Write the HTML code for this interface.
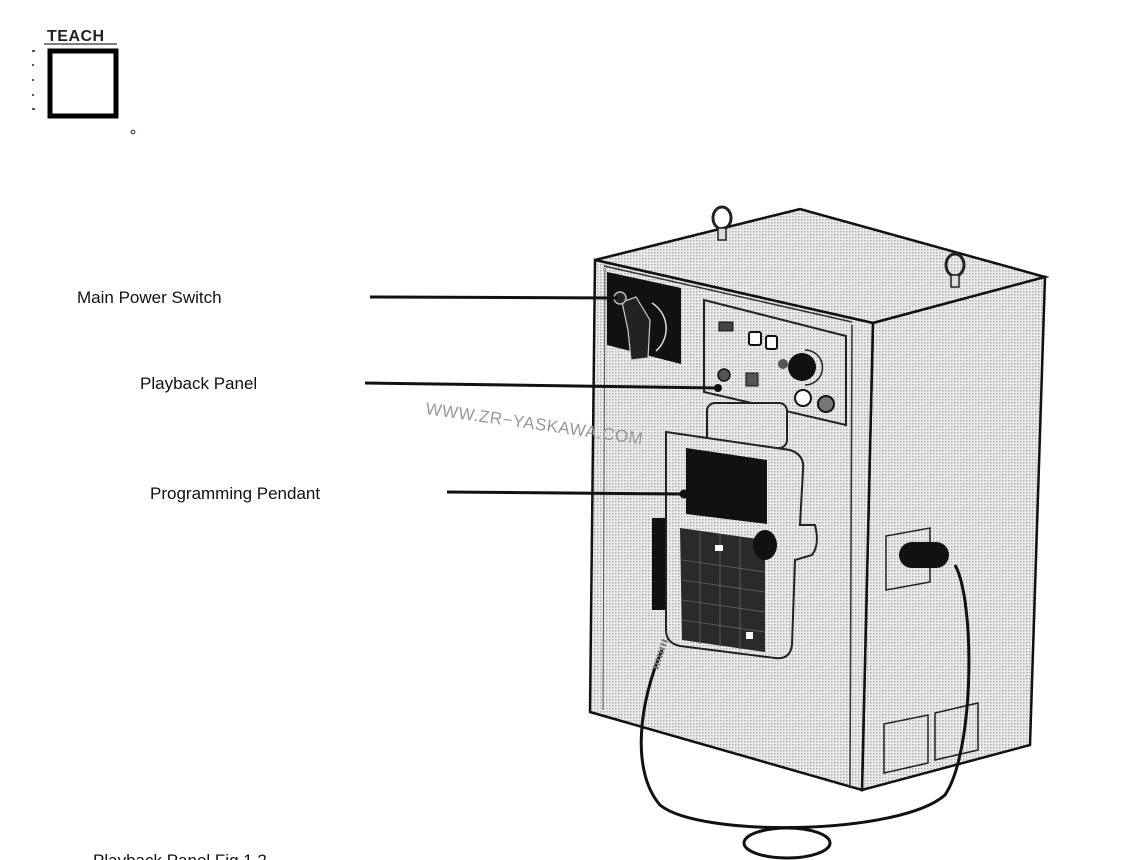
<!DOCTYPE html>
<html><head><meta charset="utf-8"><style>
html,body{margin:0;padding:0;background:#fff;width:1142px;height:860px;overflow:hidden}
svg{display:block}
text{font-family:"Liberation Sans",Arial,sans-serif}
</style></head><body>
<svg width="1142" height="860" viewBox="0 0 1142 860" xmlns="http://www.w3.org/2000/svg">
<defs>
<pattern id="dots" width="3" height="3" patternUnits="userSpaceOnUse">
<rect width="3" height="3" fill="#ececec"/><rect width="1.5" height="1.5" fill="#b0b0b0"/>
</pattern>
</defs>
<!-- TEACH -->
<text x="47" y="41" font-size="16" font-weight="bold" fill="#222" letter-spacing="0.5">TEACH</text>
<line x1="44" y1="44" x2="117" y2="44" stroke="#555" stroke-width="1.5"/>
<rect x="50" y="51" width="66" height="65" fill="#fff" stroke="#000" stroke-width="5"/>
<g fill="#555"><rect x="32" y="50" width="3" height="2"/><rect x="32" y="64" width="2" height="2"/><rect x="32" y="79" width="2" height="2"/><rect x="32" y="94" width="2" height="2"/><rect x="32" y="108" width="3" height="2"/></g>
<circle cx="133" cy="132" r="1.8" fill="none" stroke="#446" stroke-width="1.2"/>

<!-- cabinet top -->
<polygon points="595,260 800,209 1045,277 873,323" fill="url(#dots)" stroke="#111" stroke-width="2.5"/>
<!-- side -->
<polygon points="873,323 1045,277 1030,745 862,790" fill="url(#dots)" stroke="#111" stroke-width="2.5"/>
<!-- front -->
<polygon points="595,260 873,323 862,790 590,712" fill="url(#dots)" stroke="#111" stroke-width="2.5"/>
<line x1="852" y1="325" x2="850" y2="788" stroke="#333" stroke-width="1.5"/>
<line x1="604" y1="266" x2="852" y2="322" stroke="#333" stroke-width="1.5"/>
<line x1="605" y1="268" x2="603" y2="710" stroke="#555" stroke-width="1"/>
<!-- eye bolts -->
<ellipse cx="722" cy="218" rx="9" ry="11" fill="none" stroke="#222" stroke-width="3"/>
<rect x="718" y="228" width="8" height="12" fill="#ddd" stroke="#222" stroke-width="1.5"/>
<ellipse cx="955" cy="265" rx="9" ry="11" fill="none" stroke="#222" stroke-width="3"/>
<rect x="951" y="275" width="8" height="12" fill="#ddd" stroke="#222" stroke-width="1.5"/>
<!-- main power switch -->
<polygon points="607,272 681,288 681,364 607,345" fill="#111"/>
<path d="M652,303 a30,30 0 0 1 4,48" fill="none" stroke="#ddd" stroke-width="1.5"/>
<polygon points="622,302 636,297 650,320 648,358 631,360 628,330" fill="#222" stroke="#ccc" stroke-width="1.2"/>
<circle cx="620" cy="298" r="6" fill="#222" stroke="#bbb" stroke-width="1.5"/>
<!-- playback panel -->
<polygon points="704,300 846,336 846,425 704,392" fill="url(#dots)" stroke="#222" stroke-width="2"/>
<rect x="719" y="322" width="14" height="9" fill="#444" stroke="#111"/>
<rect x="749" y="332" width="12" height="13" rx="2" fill="#fff" stroke="#111" stroke-width="2"/>
<rect x="766" y="336" width="11" height="13" rx="2" fill="#fff" stroke="#111" stroke-width="2"/>
<circle cx="802" cy="367" r="14" fill="#111"/>
<path d="M805,350 a17,17 0 0 1 0,35" fill="none" stroke="#222" stroke-width="1.5"/>
<circle cx="783" cy="364" r="5" fill="#555"/>
<circle cx="724" cy="375" r="6" fill="#555" stroke="#111" stroke-width="1.5"/>
<rect x="746" y="373" width="12" height="13" fill="#555" stroke="#111"/>
<circle cx="803" cy="398" r="8" fill="#fff" stroke="#111" stroke-width="2"/>
<circle cx="826" cy="404" r="8" fill="#777" stroke="#111" stroke-width="2"/>
<!-- side connector -->
<polygon points="886,536 930,528 930,582 886,590" fill="url(#dots)" stroke="#222" stroke-width="1.5"/>
<rect x="899" y="542" width="50" height="26" rx="13" fill="#111"/>
<!-- bottom boxes -->
<polygon points="884,724 928,715 928,763 884,773" fill="url(#dots)" stroke="#222" stroke-width="1.5"/>
<polygon points="935,713 978,703 978,750 935,760" fill="url(#dots)" stroke="#222" stroke-width="1.5"/>
<!-- pendant -->
<rect x="707" y="403" width="80" height="45" rx="8" fill="url(#dots)" stroke="#222" stroke-width="2"/>
<rect x="652" y="518" width="24" height="92" fill="#111"/>
<path d="M666,432 L790,450 Q805,455 803,470 L800,525 L815,525 Q820,545 812,555 L795,560 L792,645 Q790,660 775,658 L680,646 Q666,643 666,630 Z" fill="url(#dots)" stroke="#222" stroke-width="2"/>
<polygon points="686,448 767,460 767,524 686,514" fill="#111"/>
<polygon points="680,528 765,540 765,652 682,640" fill="#2a2a2a"/>
<g stroke="#666" stroke-width="0.8">
<line x1="682" y1="560" x2="765" y2="572"/><line x1="682" y1="580" x2="765" y2="592"/><line x1="682" y1="600" x2="765" y2="612"/><line x1="682" y1="620" x2="765" y2="632"/>
<line x1="700" y1="532" x2="700" y2="644"/><line x1="720" y1="535" x2="720" y2="647"/><line x1="740" y1="538" x2="740" y2="650"/>
</g>
<rect x="715" y="545" width="8" height="6" fill="#fff"/>
<rect x="746" y="632" width="7" height="7" fill="#fff"/>
<ellipse cx="765" cy="545" rx="12" ry="15" fill="#111"/>
<!-- cable -->
<path d="M662,650 C640,700 630,770 660,805 C700,838 900,835 945,795 C975,750 975,600 955,565" fill="none" stroke="#111" stroke-width="3"/>
<line x1="665" y1="640" x2="655" y2="670" stroke="#777" stroke-width="6" stroke-dasharray="2 2"/>
<ellipse cx="787" cy="843" rx="43" ry="15" fill="none" stroke="#111" stroke-width="3"/>

<!-- watermark -->
<text x="425" y="414" font-size="17" fill="#999" transform="rotate(8 425 414)" letter-spacing="0.5">WWW.ZR−YASKAWA.COM</text>

<!-- labels -->
<text x="77" y="303" font-size="17" fill="#111">Main Power Switch</text>
<line x1="370" y1="297" x2="618" y2="298" stroke="#111" stroke-width="3"/>
<text x="140" y="389" font-size="17" fill="#111">Playback Panel</text>
<line x1="365" y1="383" x2="718" y2="388" stroke="#111" stroke-width="3"/>
<circle cx="718" cy="388" r="4" fill="#111"/>
<text x="150" y="499" font-size="17" fill="#111">Programming Pendant</text>
<line x1="447" y1="492" x2="683" y2="494" stroke="#111" stroke-width="3"/>
<circle cx="684" cy="494" r="4.5" fill="#111"/>
<text x="93" y="866" font-size="17" fill="#111">Playback Panel Fig 1.2</text>
</svg>
</body></html>
